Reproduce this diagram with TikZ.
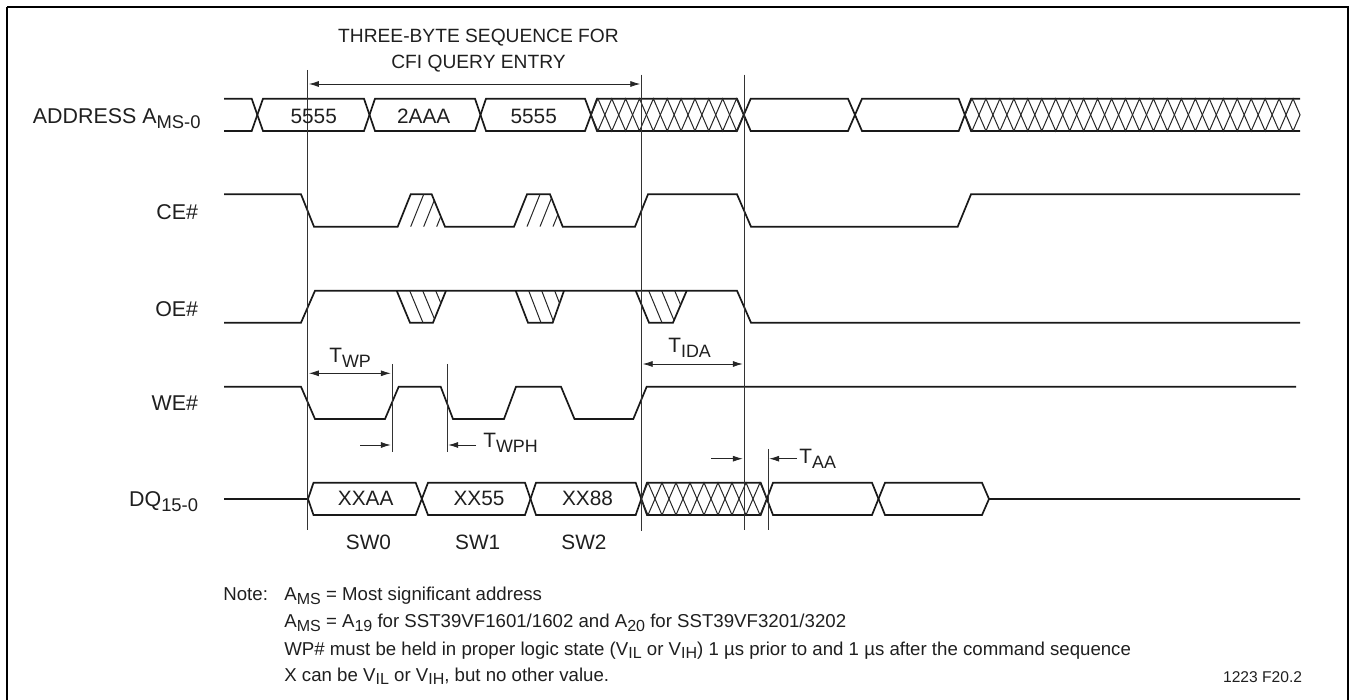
\documentclass[tikz,border=0pt]{standalone}
\usepackage{graphicx}
\usepackage{fontspec}
\setmainfont{Liberation Sans}
\usetikzlibrary{arrows.meta}
\pgfdeclarelayer{nodelayer}
\pgfdeclarelayer{edgelayer}
\pgfsetlayers{edgelayer,nodelayer,main}
\newcommand{\lowtxt}[1]{\raisebox{-.38ex}{\scalebox{.86}{#1}}}
\tikzset{frame/.style={draw=black, line width=.95pt}}
\tikzset{wave/.style={draw=black!90, line width=.85pt, line join=miter}}
\tikzset{hatchln/.style={draw=black!85, line width=.5pt}}
\tikzset{marker/.style={draw=black!80, line width=.5pt}}
\tikzset{dim/.style={draw=black!85, line width=.4pt, shorten <=.6pt, shorten >=.6pt, {Latex[length=5pt,width=3pt]}-{Latex[length=5pt,width=3pt]}}}
\tikzset{dimin/.style={draw=black!85, line width=.4pt, shorten >=.6pt, -{Latex[length=5pt,width=3pt]}}}
\tikzset{big/.style={inner sep=0pt, text=black!88, font=\fontsize{10.4}{12}\selectfont}}
\tikzset{heading/.style={inner sep=0pt, text=black!88, anchor=base, font=\fontsize{9.6}{12}\selectfont}}
\tikzset{signame/.style={big, anchor=base east, font=\fontsize{10.7}{12}\selectfont}}
\tikzset{buslabel/.style={big, anchor=base}}
\tikzset{timing/.style={big, anchor=base west}}
\tikzset{noteline/.style={inner sep=0pt, anchor=base west, text=black!88, font=\fontsize{9.32}{11}\selectfont}}
\tikzset{figno/.style={inner sep=0pt, anchor=base west, text=black!88, font=\fontsize{7.8}{9}\selectfont}}
% one diamond cell of the undefined-state hatch
\newcommand{\hatchrun}[5]{%
	\foreach \k in {1,...,#3} {
		\draw [hatchln] ({#1+(\k-1)*#2},{(#4+#5)/2}) -- ({#1+(\k-.5)*#2},#4) -- ({#1+\k*#2},{(#4+#5)/2}) -- ({#1+(\k-.5)*#2},#5) -- cycle;
	}
}
% parallel strokes clipped to a bump
\newcommand{\upbump}[4]{%
	\begin{scope}
		\clip (#1,#4) -- (#2,194.3) -- (#3,194.3) -- ({#3+13},#4) -- cycle;
		\foreach \k in {1,2,3} {
			\draw [hatchln] ({#1+\k*13},#4) -- ({#2+\k*13},194.3);
		}
	\end{scope}
}
\newcommand{\downbump}[4]{%
	\begin{scope}
		\clip (#1,290.7) -- (#2,#4) -- (#3,#4) -- ({#3+13},290.7) -- cycle;
		\foreach \k in {1,2,3} {
			\draw [hatchln] ({#1+\k*13},290.7) -- ({#2+\k*13},#4);
		}
	\end{scope}
}
\begin{document}
\begin{tikzpicture}[x=.5pt,y=-.5pt]
	\useasboundingbox (0,0) rectangle (1351,700);
	\begin{pgfonlayer}{nodelayer}
		\node [heading] (head1) at (478.5, 43) {THREE-BYTE SEQUENCE FOR};
		\node [heading] (head2) at (478.5, 69) {CFI QUERY ENTRY};
		\node [signame] (addr) at (201, 124) {ADDRESS A\lowtxt{MS-0}};
		\node [signame] (ce) at (198.5, 220) {CE\#};
		\node [signame] (oe) at (198.5, 317) {OE\#};
		\node [signame] (we) at (198.5, 411) {WE\#};
		\node [signame] (dq) at (198.5, 507) {DQ\lowtxt{15-0}};
		\node [buslabel] (a1) at (313.7, 124) {5555};
		\node [buslabel] (a2) at (423.7, 124) {2AAA};
		\node [buslabel] (a3) at (533.7, 124) {5555};
		\node [buslabel] (d1) at (365.7, 505.7) {XXAA};
		\node [buslabel] (d2) at (479, 505.7) {XX55};
		\node [buslabel] (d3) at (587.5, 505.7) {XX88};
		\node [buslabel] (sw0) at (368.5, 549) {SW0};
		\node [buslabel] (sw1) at (477.7, 549) {SW1};
		\node [buslabel] (sw2) at (584, 549) {SW2};
		\node [timing] (twp) at (329, 363) {T\lowtxt{WP}};
		\node [timing] (twph) at (483, 448) {T\lowtxt{WPH}};
		\node [timing] (tida) at (668, 353) {T\lowtxt{IDA}};
		\node [timing] (taa) at (799, 464) {T\lowtxt{AA}};
		\node [noteline] (note) at (223, 600.7) {Note:};
		\node [noteline] (n1) at (284, 600.7) {A\lowtxt{MS} = Most significant address};
		\node [noteline] (n2) at (284, 627.7) {A\lowtxt{MS} = A\lowtxt{19} for SST39VF1601/1602 and A\lowtxt{20} for SST39VF3201/3202};
		\node [noteline] (n3) at (284, 655) {WP\# must be held in proper logic state (V\lowtxt{IL} or V\lowtxt{IH}) 1 µs prior to and 1 µs after the command sequence};
		\node [noteline] (n4) at (284, 681) {X can be V\lowtxt{IL} or V\lowtxt{IH}, but no other value.};
		\node [figno] (fig) at (1222.7, 682) {1223 F20.2};
		\coordinate (m1t) at (307.7, 70);
		\coordinate (m1b) at (307.7, 530);
		\coordinate (m2t) at (641.5, 74.7);
		\coordinate (m2b) at (641.5, 531);
		\coordinate (m3t) at (744, 74.7);
		\coordinate (m3b) at (744, 530);
		\coordinate (m4t) at (768, 449);
		\coordinate (m4b) at (768, 530);
		\coordinate (m5t) at (392, 364);
		\coordinate (m5b) at (392, 452);
		\coordinate (m6t) at (447, 364);
		\coordinate (m6b) at (447, 452);
		\coordinate (s1l) at (307.7, 84);
		\coordinate (s1r) at (641.5, 84);
		\coordinate (wpl) at (307.7, 373.3);
		\coordinate (wpr) at (392, 373.3);
		\coordinate (idl) at (641.5, 364);
		\coordinate (idr) at (744, 364);
		\coordinate (ph1a) at (360, 445);
		\coordinate (ph1b) at (392, 445);
		\coordinate (ph2a) at (476, 445);
		\coordinate (ph2b) at (447, 445);
		\coordinate (aa1a) at (711, 458.7);
		\coordinate (aa1b) at (744, 458.7);
		\coordinate (aa2a) at (797, 458.7);
		\coordinate (aa2b) at (768, 458.7);
	\end{pgfonlayer}
	\begin{pgfonlayer}{edgelayer}
		\draw [frame] (7,7) -- (7,703) (7,7) -- (1348,7) -- (1348,703);
		% address bus
		\draw [wave] (224,98.7) -- (251.7,98.7) -- (263,131) -- (364,131) -- (375,98.7) -- (475,98.7) -- (486,131) -- (585,131) -- (597,98.7) -- (737,98.7) -- (750.7,131) -- (848,131) -- (862,98.7) -- (958.7,98.7) -- (971,131) -- (1300,131);
		\draw [wave] (224,131) -- (251.7,131) -- (263,98.7) -- (364,98.7) -- (375,131) -- (475,131) -- (486,98.7) -- (585,98.7) -- (597,131) -- (737,131) -- (750.7,98.7) -- (848,98.7) -- (862,131) -- (958.7,131) -- (971,98.7) -- (1300,98.7);
		\hatchrun{591}{13.86}{11}{98.7}{131}
		\hatchrun{965}{13.96}{24}{98.7}{131}
		% CE#
		\draw [wave] (224,194.3) -- (301,194.3) -- (314,226.7) -- (397.7,226.7) -- (410.7,194.3) -- (431.7,194.3) -- (445,226.7) -- (514,226.7) -- (527,194.3) -- (550,194.3) -- (562.7,226.7) -- (635,226.7) -- (648,194.3) -- (737,194.3) -- (751,226.7) -- (957.7,226.7) -- (971,194.3) -- (1300,194.3);
		\upbump{397.7}{410.7}{431.7}{226.7}
		\upbump{514}{527}{550}{226.7}
		% OE#
		\draw [wave] (224,322.7) -- (301,322.7) -- (315,290.7) -- (737,290.7) -- (751,322.7) -- (1300,322.7);
		\draw [wave] (396.7,290.7) -- (410,322.7) -- (433,322.7) -- (446,290.7);
		\draw [wave] (515.7,290.7) -- (528,322.7) -- (552.7,322.7) -- (564,290.7);
		\draw [wave] (635.7,290.7) -- (649,322.7) -- (673,322.7) -- (686.7,290.7);
		\downbump{396.7}{410}{433}{322.7}
		\downbump{515.7}{528}{552.7}{322.7}
		\downbump{635.7}{649}{673}{322.7}
		% WE#
		\draw [wave] (224,386.7) -- (301,386.7) -- (315,419) -- (385,419) -- (398.7,386.7) -- (440.7,386.7) -- (453,419) -- (504,419) -- (516,386.7) -- (561,386.7) -- (574.5,419) -- (633.3,419) -- (646.7,386.7) -- (1296,386.7);
		% DQ bus
		\draw [wave] (224,499) -- (308,499) -- (313.5,482.7) -- (415.7,482.7) -- (428,515) -- (525,515) -- (536,482.7) -- (635.7,482.7) -- (647,515) -- (760.7,515) -- (773,482.7) -- (872,482.7) -- (885,515) -- (982,515) -- (989,499) -- (1300,499);
		\draw [wave] (308,499) -- (313.5,515) -- (415.7,515) -- (428,482.7) -- (525,482.7) -- (536,515) -- (635.7,515) -- (647,482.7) -- (760.7,482.7) -- (773,515) -- (872,515) -- (885,482.7) -- (982,482.7) -- (989,499);
		\hatchrun{641}{14}{9}{482.7}{515}
		% timing marks
		\draw [marker] (m1t) to (m1b);
		\draw [marker] (m2t) to (m2b);
		\draw [marker] (m3t) to (m3b);
		\draw [marker] (m4t) to (m4b);
		\draw [marker] (m5t) to (m5b);
		\draw [marker] (m6t) to (m6b);
		\draw [dim] (s1l) to (s1r);
		\draw [dim] (wpl) to (wpr);
		\draw [dim] (idl) to (idr);
		\draw [dimin] (ph1a) to (ph1b);
		\draw [dimin] (ph2a) to (ph2b);
		\draw [dimin] (aa1a) to (aa1b);
		\draw [dimin] (aa2a) to (aa2b);
	\end{pgfonlayer}
\end{tikzpicture}
\end{document}
